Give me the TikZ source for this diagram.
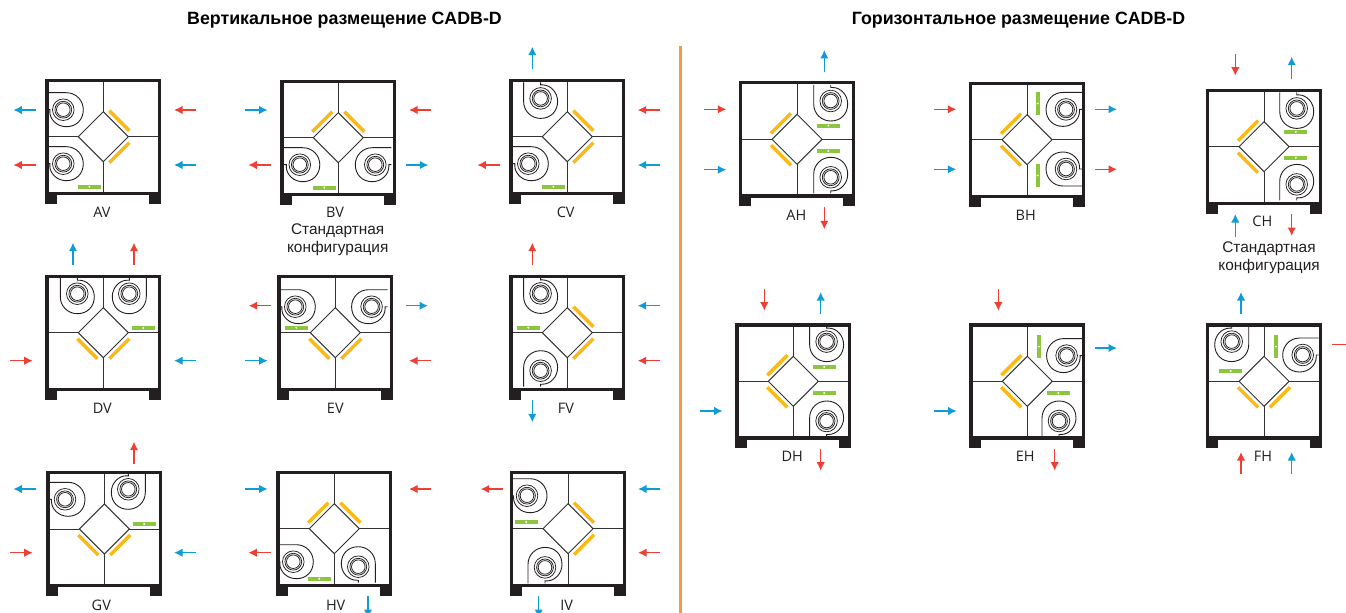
\documentclass[tikz,border=0pt]{standalone}
\usepackage{fontspec}
\setmainfont{Liberation Sans}
\newfontfamily\lblfont{Open Sans}
\usetikzlibrary{arrows.meta}
\definecolor{wallc}{HTML}{231F20}
\definecolor{linec}{HTML}{333333}
\definecolor{barc}{HTML}{FDB913}
\definecolor{greenc}{HTML}{8CC63F}
\definecolor{redc}{HTML}{EF3E33}
\definecolor{bluec}{HTML}{0F9BD7}
\definecolor{sepc}{HTML}{F79A3E}
\tikzset{
  wall/.style={draw=wallc,line width=3.2bp},
  foot/.style={fill=wallc,draw=none},
  inner/.style={draw=linec,line width=1bp},
  volute/.style={draw=wallc,line width=0.9bp},
  ring/.style={draw=wallc,line width=0.75bp},
  yellowbar/.style={draw=barc,line width=3.4bp},
  greenbar/.style={fill=greenc,draw=none},
  whitedot/.style={fill=white,draw=none},
  flow/.style={line width=1.5bp,-{Latex[length=8.5bp,width=8.5bp]}},
  title/.style={font=\bfseries\fontsize{17.8bp}{20bp}\selectfont,inner sep=0pt},
  code/.style={font=\lblfont\fontsize{14.5bp}{16bp}\selectfont\color{wallc},inner sep=0pt},
  note/.style={font=\fontsize{15.4bp}{18bp}\selectfont\color{wallc},inner sep=0pt,align=center}
}
\newcommand{\casing}{%
  \fill[foot] (-58,55) rectangle (-46,67);
  \fill[foot] (46,55) rectangle (58,67);
  \draw[inner] (0,-25) -- (25,0) -- (0,25) -- (-25,0) -- cycle;
  \draw[inner] (0,-56) -- (0,-25) (0,25) -- (0,56) (-56,0) -- (-25,0) (25,0) -- (56,0);
  \draw[wall] (-56.4,-56.4) rectangle (56.4,56.6);
}
\newcommand{\yNE}{\draw[yellowbar] (6,-26) -- (26,-6);}
\newcommand{\ySE}{\draw[yellowbar] (6,26) -- (26,6);}
\newcommand{\yNW}{\draw[yellowbar] (-6,-26) -- (-26,-6);}
\newcommand{\ySW}{\draw[yellowbar] (-6,26) -- (-26,6);}
\newcommand{\gh}[2]{\fill[greenbar] (#1-11.5,#2-2) rectangle (#1+11.5,#2+2);
  \fill[whitedot] (#1,#2) circle[radius=1.1bp];}
\newcommand{\gv}[2]{\fill[greenbar] (#1-2,#2-11.5) rectangle (#1+2,#2+11.5);
  \fill[whitedot] (#1,#2) circle[radius=1.1bp];}
% #1,#2 centre; #3-#6 local axes on the page
\newcommand{\fan}[6]{%
  \begin{scope}[shift={(#1,#2)}]
    \draw[ring] (0,0) circle[radius=10.8bp] (0,0) circle[radius=8.4bp] (0,0) circle[radius=6.8bp];
    \begin{scope}[x={(#3bp,#4bp)},y={(#5bp,#6bp)}]
      \draw[volute] (-16,-17) -- (3,-17) .. controls (13,-17) and (20,-9) .. (20,0)
        .. controls (20,10) and (13,17) .. (3,17)
        .. controls (-6,17) and (-13.5,10) .. (-13.5,2) -- (-13.5,0) -- (-16,0);
    \end{scope}
  \end{scope}}
\newcommand{\fanL}[2]{\fan{#1}{#2}{1}{0}{0}{-1}}
\newcommand{\fanR}[2]{\fan{#1}{#2}{-1}{0}{0}{-1}}
\newcommand{\fanRF}[2]{\fan{#1}{#2}{-1}{0}{0}{1}}
\newcommand{\fanUL}[2]{\fan{#1}{#2}{0}{-1}{1}{0}}
\newcommand{\fanULF}[2]{\fan{#1}{#2}{0}{1}{1}{0}}
\newcommand{\fanUR}[2]{\fan{#1}{#2}{0}{-1}{-1}{0}}
\newcommand{\fanURF}[2]{\fan{#1}{#2}{0}{1}{-1}{0}}
\newcommand{\flowr}[4]{\draw[flow,redc] (#1,#2) -- (#3,#4);}
\newcommand{\flowb}[4]{\draw[flow,bluec] (#1,#2) -- (#3,#4);}
\begin{document}
\begin{tikzpicture}[x=1bp,y=-1bp]
\useasboundingbox (0,0) rectangle (1346,613);
\clip (0,0) rectangle (1346,613);
\fill[white] (0,0) rectangle (1346,613);
\node[title] (t1) at (344.5,20) {Вертикальное размещение CADB-D};
\node[title] (t2) at (1018.5,20) {Горизонтальное размещение CADB-D};
\draw[sepc,line width=2.8bp] (680.3,46) -- (680.3,613);

% AV
\begin{scope}[shift={(103.3,136.7)}]
\fanL{-40}{-27}\fanL{-40}{27}\casing\yNE\ySE\gh{-14}{50}
\end{scope}
\node[code] (av) at (102,212.7) {AV};
\flowb{35.7}{110}{13.3}{110}\flowr{35.7}{165}{13.3}{165}\flowr{196.3}{110}{174}{110}\flowb{196.3}{165}{174}{165}

% BV
\begin{scope}[shift={(338.3,137.7)}]
\fanL{-38.5}{27}\fanR{37}{27}\casing\yNE\yNW\gh{-14}{50}
\end{scope}
\node[code] (bv) at (335,212.7) {BV};
\node[note] (bvn) at (337.7,240) {Стандартная\\конфигурация};
\flowb{245}{110}{267.7}{110}\flowr{271}{165}{248.3}{165}\flowr{431}{110}{409}{110}\flowb{406}{165}{428.3}{165}

% CV
\begin{scope}[shift={(567.3,136.7)}]
\fanUL{-26.7}{-38.3}\fanL{-39}{27}\casing\yNE\ySE\gh{-14}{50}
\end{scope}
\node[code] (cv) at (565.7,212.7) {CV};
\flowb{532.3}{69.3}{532.3}{46.7}\flowr{500}{165}{477.3}{165}\flowr{660}{110}{637.7}{110}\flowb{660}{165}{637.7}{165}

% DV
\begin{scope}[shift={(103.3,332.7)}]
\fanUL{-26}{-39}\fanUR{26}{-39}\casing\ySW\ySE\gh{40}{-4.7}
\end{scope}
\node[code] (dv) at (102.3,408) {DV};
\flowb{73}{265}{73}{242.7}\flowr{134}{265}{134}{242.7}\flowr{10}{360.7}{32.7}{360.7}\flowb{196.3}{360.7}{174}{360.7}

% EV
\begin{scope}[shift={(335.3,332.7)}]
\fanL{-40}{-26}\fanR{36.3}{-26}\casing\ySW\ySE\gh{-39}{-5}
\end{scope}
\node[code] (ev) at (335.3,408) {EV};
\flowr{271}{305.7}{248.7}{305.7}\flowb{405.7}{305.7}{428}{305.7}\flowb{245}{360.7}{267.7}{360.7}\flowr{431}{360.7}{409}{360.7}

% FV
\begin{scope}[shift={(567.3,332.7)}]
\fanUL{-26.7}{-39.3}\fanULF{-26.7}{38}\casing\yNE\ySE\gh{-39}{-5}
\end{scope}
\node[code] (fv) at (566,408) {FV};
\flowr{532.3}{265}{532.3}{242.7}\flowb{660}{305.7}{637.7}{305.7}\flowr{660}{360.7}{637.7}{360.7}\flowb{532.3}{400}{532.3}{422.3}

% GV
\begin{scope}[shift={(104.3,529)}]
\fanL{-39.3}{-29.7}\fanUR{24}{-39.7}\casing\ySW\ySE\gh{40}{-5}
\end{scope}
\node[code] (gv) at (101.3,605) {GV};
\flowr{134}{464}{134}{441.7}\flowb{35.7}{489}{13.3}{489}\flowr{10}{552.7}{32.7}{552.7}\flowb{196.3}{552.7}{174}{552.7}

% HV
\begin{scope}[shift={(334.3,528.7)}]
\fanL{-41}{33}\fanURF{24}{38}\casing\yNW\yNE\gh{-15}{50}
\end{scope}
\node[code] (hv) at (335.7,605) {HV};
\flowb{245}{489}{267.7}{489}\flowr{271}{552.7}{248.3}{552.7}\flowr{431}{489}{409}{489}\flowb{368}{596}{368}{618}

% IV
\begin{scope}[shift={(568,528.7)}]
\fanL{-41}{-33}\fanULF{-23}{38.7}\casing\yNE\ySE\gh{-41.7}{-6.7}
\end{scope}
\node[code] (iv) at (566.7,605) {IV};
\flowr{502.7}{489}{480.7}{489}\flowb{660}{489}{638}{489}\flowr{660}{552.7}{638}{552.7}\flowb{538.7}{596}{538.7}{618}

% AH
\begin{scope}[shift={(797,139.3)}]
\fanUL{33.7}{-38.3}\fanULF{33.7}{38}\casing\yNW\ySW\gh{31.3}{-13.7}\gh{31.3}{11.7}
\end{scope}
\node[code] (ah) at (796.3,215) {AH};
\flowb{824.3}{72}{824.3}{50}\flowr{704}{109.3}{726.3}{109.3}\flowb{704}{169.7}{726.3}{169.7}\flowr{824.3}{207.3}{824.3}{229.3}

% BH
\begin{scope}[shift={(1027,139.7)}]
\fanR{39}{-30.3}\fanRF{39}{29.3}\casing\yNW\ySW\gv{10.7}{-36.3}\gv{10.7}{35.7}
\end{scope}
\node[code] (bh) at (1025.7,215) {BH};
\flowr{934}{109.3}{956.3}{109.3}\flowb{934}{169.3}{956.3}{169.3}\flowb{1095}{109.3}{1117}{109.3}\flowr{1095}{169.3}{1117}{169.3}

% CH
\begin{scope}[shift={(1264,146.7)}]
\fanUL{32.7}{-38.3}\fanULF{32.7}{37.7}\casing\yNW\ySW\gh{31.7}{-14.7}\gh{31.7}{11}
\end{scope}
\node[code] (ch) at (1262.3,221.7) {CH};
\node[note] (chn) at (1269,257.5) {Стандартная\\конфигурация};
\flowr{1235.3}{54}{1235.3}{75.7}\flowb{1291.7}{79}{1291.7}{56.7}\flowb{1235.3}{236.7}{1235.3}{214}\flowr{1291.7}{214}{1291.7}{236}

% DH
\begin{scope}[shift={(793.3,381.3)}]
\fanUL{33.3}{-39.7}\fanULF{33.3}{39.7}\casing\yNW\ySW\gh{31}{-14.3}\gh{31}{11.7}
\end{scope}
\node[code] (dh) at (792.3,456.7) {DH};
\flowr{764.3}{289}{764.3}{310.7}\flowb{820.7}{314}{820.7}{292}\flowb{700}{411}{722.7}{411}\flowr{820.7}{449.3}{820.7}{470.7}

% EH
\begin{scope}[shift={(1027.3,381.3)}]
\fanR{39.3}{-25.7}\fanULF{31.7}{39.7}\casing\yNW\ySW\gv{11.7}{-34.7}\gh{31}{11.7}
\end{scope}
\node[code] (eh) at (1025.3,456.7) {EH};
\flowr{998.3}{289}{998.3}{310.7}\flowb{1094.7}{348}{1117}{348}\flowb{934}{411}{956.7}{411}\flowr{1054.7}{449.3}{1054.7}{470.7}

% FH
\begin{scope}[shift={(1264,381.3)}]
\fanUR{-32.3}{-39.7}\fanR{38.7}{-26.3}\casing\ySW\ySE\gh{-33.3}{-10.3}\gv{12}{-34.7}
\end{scope}
\node[code] (fh) at (1263,456.7) {FH};
\flowb{1241}{314}{1241}{292}\flowr{1332}{344.7}{1355}{344.7}\flowr{1241}{474}{1241}{452}\flowb{1291.7}{474}{1291.7}{452}
\end{tikzpicture}
\end{document}
